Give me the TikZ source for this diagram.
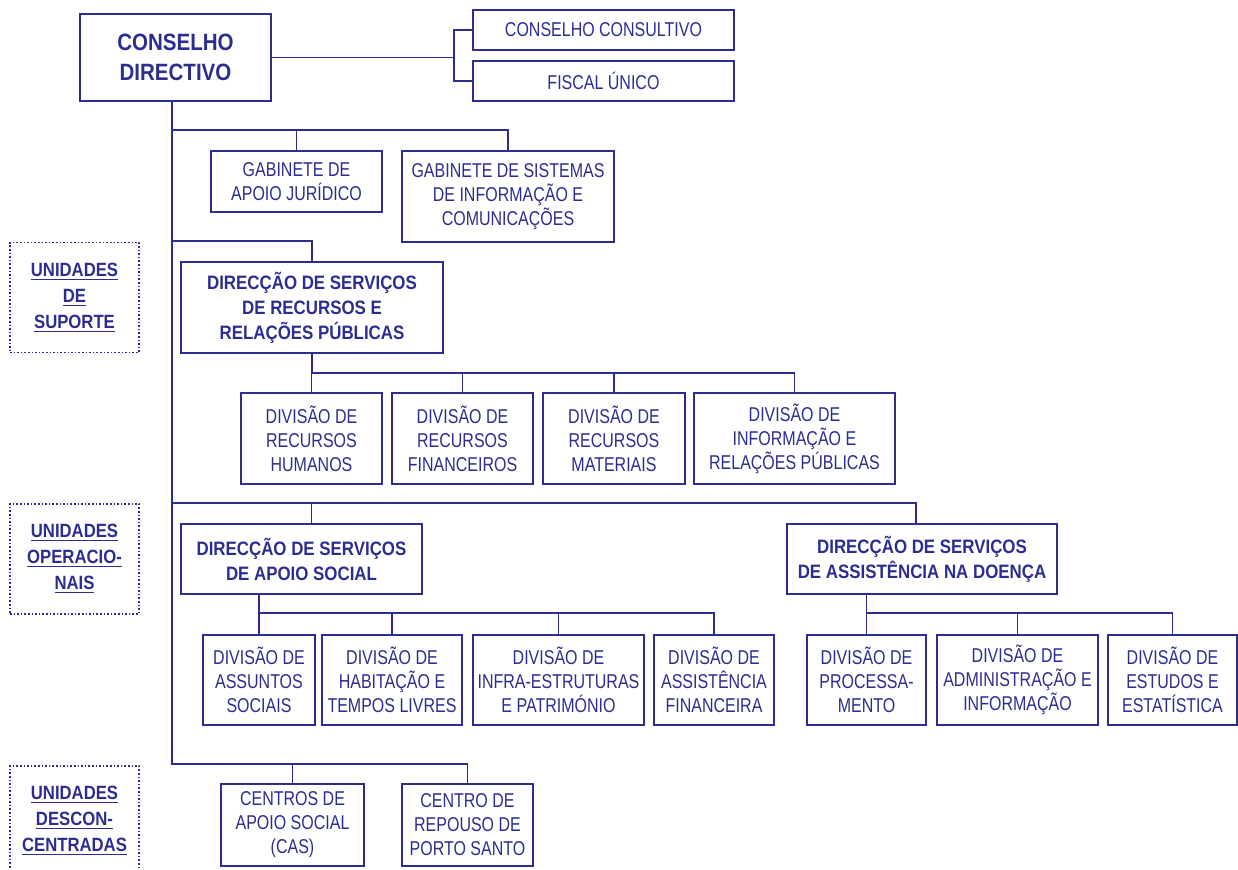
\documentclass[tikz,border=0pt]{standalone}
\usepackage{fontspec}
\setmainfont{Liberation Sans}[FakeStretch=0.8]
\newfontfamily\headfont{Liberation Sans}[FakeStretch=0.87]
\usetikzlibrary{positioning,calc}
\definecolor{orgblue}{RGB}{45,45,145}
\tikzset{
  box/.style={draw=orgblue,line width=0.85pt,inner sep=0pt,align=center,text=orgblue,font=\fontsize{10}{12}\selectfont},
  headbox/.style={box,font=\headfont\bfseries\fontsize{9.7}{12.5}\selectfont},
  unitbox/.style={draw=orgblue,densely dotted,line width=0.8pt,inner sep=0pt,align=center,text=orgblue,
    font=\headfont\bfseries\fontsize{9.6}{13}\selectfont,minimum width=64.5pt,minimum height=55pt},
  link/.style={draw=orgblue,line width=0.85pt},
}
\begin{document}
\begin{tikzpicture}[x=0.5pt,y=-0.5pt]
\useasboundingbox (0,0) rectangle (1238,869);
% top
\node[headbox,font=\headfont\bfseries\fontsize{11.8}{15}\selectfont,minimum width=95.5pt,minimum height=43.5pt] (cd) at (175.5,57.5) {CONSELHO\\DIRECTIVO};
\node[box,minimum width=130.5pt,minimum height=20pt] (cc) at (603.5,30) {CONSELHO CONSULTIVO};
\node[box,minimum width=130.5pt,minimum height=20pt] (fu) at (603.5,81) {FISCAL ÚNICO};
\node[box,minimum width=85.5pt,minimum height=30.5pt] (gaj) at (296.5,181.5) {GABINETE DE\\APOIO JURÍDICO};
\node[box,minimum width=106pt,minimum height=45.5pt] (gsic) at (508,196.5) {GABINETE DE SISTEMAS\\DE INFORMAÇÃO E\\COMUNICAÇÕES};
% suporte
\node[headbox,minimum width=131pt,minimum height=45.5pt] (dsrrp) at (312,307.5) {DIRECÇÃO DE SERVIÇOS\\DE RECURSOS E\\RELAÇÕES PÚBLICAS};
\node[box,minimum width=70.5pt,minimum height=45.5pt] (drh) at (311.5,438.5) {DIVISÃO DE\\RECURSOS\\HUMANOS};
\node[box,minimum width=70.5pt,minimum height=45.5pt] (drf) at (462.5,438.5) {DIVISÃO DE\\RECURSOS\\FINANCEIROS};
\node[box,minimum width=71pt,minimum height=45.5pt] (drm) at (614,438.5) {DIVISÃO DE\\RECURSOS\\MATERIAIS};
\node[box,minimum width=100.5pt,minimum height=45.5pt] (dirp) at (794.5,438.5) {DIVISÃO DE\\INFORMAÇÃO E\\RELAÇÕES PÚBLICAS};
% operacionais
\node[headbox,minimum width=120.5pt,minimum height=35pt] (dsas) at (301.5,559) {DIRECÇÃO DE SERVIÇOS\\DE APOIO SOCIAL};
\node[headbox,minimum width=135pt,minimum height=35pt] (dsad) at (922,559) {DIRECÇÃO DE SERVIÇOS\\DE ASSISTÊNCIA NA DOENÇA};
\node[box,minimum width=56pt,minimum height=45pt] (das) at (259,680) {DIVISÃO DE\\ASSUNTOS\\SOCIAIS};
\node[box,minimum width=70pt,minimum height=45pt] (dht) at (392,680) {DIVISÃO DE\\HABITAÇÃO E\\TEMPOS LIVRES};
\node[box,minimum width=85.5pt,minimum height=45pt] (dip) at (558.5,680) {DIVISÃO DE\\INFRA-ESTRUTURAS\\E PATRIMÓNIO};
\node[box,minimum width=60pt,minimum height=45pt] (daf) at (714,680) {DIVISÃO DE\\ASSISTÊNCIA\\FINANCEIRA};
\node[box,minimum width=59.5pt,minimum height=45pt] (dpr) at (866.5,680) {DIVISÃO DE\\PROCESSA-\\MENTO};
\node[box,minimum width=80.5pt,minimum height=45pt] (dai) at (1017.5,680) {DIVISÃO DE\\ADMINISTRAÇÃO E\\INFORMAÇÃO};
\node[box,minimum width=64.5pt,minimum height=45pt] (dee) at (1172.5,680) {DIVISÃO DE\\ESTUDOS E\\ESTATÍSTICA};
% desconcentradas
\node[box,minimum width=71.5pt,minimum height=41pt] (cas) at (292.5,825) {CENTROS DE\\APOIO SOCIAL\\(CAS)};
\node[box,minimum width=65.5pt,minimum height=41pt] (crps) at (467.5,825) {CENTRO DE\\REPOUSO DE\\PORTO SANTO};
% side labels
\node[unitbox] (usup) at (74.5,297.5) {\underline{UNIDADES}\\\underline{DE}\\\underline{SUPORTE}};
\node[unitbox] (uop) at (74.5,559) {\underline{UNIDADES}\\\underline{OPERACIO-}\\\underline{NAIS}};
\node[unitbox] (udesc) at (74.5,821) {\underline{UNIDADES}\\\underline{DESCON-}\\\underline{CENTRADAS}};

% links
\draw[link] (cd.east) -- ++(182,0) coordinate (br);
\draw[link] (cc.west) -| (br) |- (fu.west);
\coordinate (trunk) at ([xshift=-1.75pt]cd.south);
\coordinate (b1) at ($(gsic.north)+(0,-20)$);
\draw[link] (b1 -| trunk) -| (gsic.north);
\draw[link] (gaj.north) -- (gaj.north |- b1);
\coordinate (b2) at ($(dsrrp.north)+(0,-20)$);
\draw[link] (b2 -| trunk) -- (b2) -- (dsrrp.north);
\coordinate (b3) at ($(drh.north)+(0,-19)$);
\draw[link] (dsrrp.south) |- (b3 -| dirp.north) -- (dirp.north);
\foreach \n in {drh,drf,drm} \draw[link] (\n.north) -- (\n.north |- b3);
\coordinate (b4) at ($(dsad.north)+(0,-20)$);
\draw[link] (b4 -| trunk) -| ([xshift=-3pt]dsad.north);
\draw[link] ([xshift=5pt]dsas.north) -- ([xshift=5pt]dsas.north |- b4);
\coordinate (b5) at ($(das.north)+(0,-21)$);
\draw[link] (das.north) -- (das.north |- dsas.south);
\draw[link] (b5) -| (daf.north);
\foreach \n in {dht,dip} \draw[link] (\n.north) -- (\n.north |- b5);
\coordinate (b6) at ($(dpr.north)+(0,-21)$);
\draw[link] (dpr.north) -- (dpr.north |- dsad.south);
\draw[link] (b6) -| (dee.north);
\draw[link] (dai.north) -- (dai.north |- b6);
\coordinate (b7) at ($(cas.north)+(0,-19)$);
\draw[link] (trunk) |- (b7 -| crps.north) -- (crps.north);
\draw[link] (cas.north) -- (b7);
\end{tikzpicture}
\end{document}
